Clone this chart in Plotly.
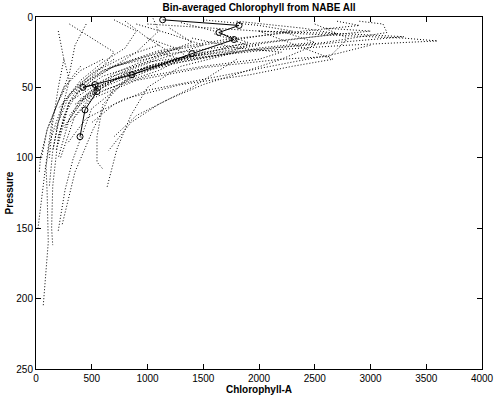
import plotly.graph_objects as go

# Individual profiles (Chlorophyll-A vs Pressure)
profile_chl = [
    [1100, 800, 550, 380, 250, 180, 120, 90, 100, 110, 65],
    [1300, 900, 600, 400, 300, 200, 150, 140, 150],
    [600, 400, 250, 150, 80, 18],
    [1500, 1000, 700, 511, 350, 233],
    [2000, 1400, 900, 500, 332, 260, 197],
    [1800, 1300, 1000, 850, 725, 637],
    [1700, 1200, 800, 600, 547, 547, 600],
    [700, 500, 300, 200, 150, 120],
    [400, 300, 200, 100, 40, 30],
    [250, 200, 150, 120],
    [1000, 1600, 2400, 3000, 3300, 3600, 2800, 2000, 1300, 800, 500],
    [2900, 3112, 3148, 2600, 1900, 1200, 700, 400],
    [2500, 2800, 2636, 2200, 1500, 900, 500, 300],
    [2000, 2663, 2300, 1919, 1300, 800, 450, 280],
    [1800, 2400, 2700, 2100, 1500, 900, 500],
    [1500, 2000, 2300, 1800, 1100, 600, 350],
    [1300, 1600, 1900, 1400, 800, 400],
    [900, 1200, 1500, 1100, 700, 400, 250],
    [800, 1000, 1200, 900, 600, 300, 200],
    [1200, 1400, 1000, 700, 450, 300],
    [700, 900, 800, 600, 400, 250, 180],
    [2600, 3000, 2500, 1800, 1200, 700, 400, 200],
    [2200, 2500, 2000, 1600, 1000, 600, 350],
    [1600, 1900, 1700, 1300, 900, 600, 400, 250],
    [300, 500, 700, 600, 400, 250, 180],
    [1050, 1100, 900, 700, 500, 300, 200],
    [200, 250, 300, 250, 200, 150],
    [2000, 2800, 3300, 3000, 2400, 1700, 1000, 600, 350],
    [1400, 1800, 2200, 2000, 1500, 1000, 600],
    [1100, 1300, 1100, 800, 500, 350, 220],
    [2700, 2900, 2400, 1700, 1100, 650],
    [1000, 1250, 1350, 1000, 700, 450, 300, 200],
    [2500, 2200, 1900, 1500, 1200, 900, 700],
    [1800, 1600, 1400, 1100, 850, 650],
    [3000, 2700, 2300, 1900, 1450, 1000, 700, 500],
    [450, 350, 300, 200, 100, 50],
]
profile_pres = [
    [20, 28, 38, 48, 60, 75, 90, 106, 125, 160, 205],
    [22, 30, 38, 48, 60, 85, 120, 150, 162],
    [30, 38, 50, 70, 110, 150],
    [25, 35, 50, 80, 110, 148],
    [20, 28, 40, 65, 101, 123, 153],
    [25, 35, 50, 70, 94, 121],
    [22, 32, 45, 62, 85, 103, 108],
    [30, 40, 55, 75, 95, 120],
    [35, 45, 60, 80, 100, 110],
    [30, 50, 75, 100],
    [5, 8, 12, 14, 15, 17, 20, 24, 30, 40, 52],
    [3, 5, 11, 18, 24, 32, 45, 60],
    [5, 15, 28, 30, 36, 45, 58, 75],
    [10, 30, 35, 41, 48, 58, 72, 90],
    [3, 8, 12, 18, 25, 38, 52],
    [2, 6, 10, 16, 25, 38, 55],
    [4, 10, 18, 28, 40, 60],
    [5, 12, 20, 30, 42, 58, 80],
    [3, 15, 25, 35, 45, 60, 85],
    [8, 18, 30, 40, 55, 70],
    [2, 10, 22, 32, 45, 60, 80],
    [8, 10, 14, 20, 26, 35, 48, 65],
    [10, 18, 22, 28, 36, 48, 62],
    [12, 20, 26, 32, 40, 50, 62, 78],
    [5, 15, 25, 35, 50, 70, 95],
    [1, 10, 25, 35, 45, 60, 90],
    [10, 30, 45, 60, 75, 95],
    [10, 12, 14, 16, 20, 25, 32, 42, 55],
    [15, 22, 25, 30, 35, 42, 52],
    [25, 30, 38, 46, 56, 70, 100],
    [3, 6, 10, 16, 24, 36],
    [15, 22, 28, 35, 44, 56, 72, 100],
    [20, 30, 38, 48, 58, 70, 85],
    [30, 40, 50, 62, 75, 95],
    [20, 26, 32, 38, 45, 52, 62, 75],
    [5, 20, 40, 60, 80, 100],
]

# Bin-averaged profile
mean_chl = [1136, 1821, 1641, 1776, 1399, 861, 421, 529, 547, 439, 395]
mean_pres = [2, 6, 11, 16, 26, 41, 50, 48, 53, 66, 85]

x_ticks = [0, 500, 1000, 1500, 2000, 2500, 3000, 3500, 4000]
y_ticks = [0, 50, 100, 150, 200, 250]

fig = go.Figure()
for c, p in zip(profile_chl, profile_pres):
    fig.add_trace(go.Scatter(x=c, y=p, mode="lines",
                             line=dict(color="black", width=1, dash="1px,2px"),
                             hoverinfo="skip", showlegend=False))

fig.add_trace(go.Scatter(x=mean_chl, y=mean_pres, mode="lines+markers",
                         line=dict(color="black", width=1),
                         marker=dict(symbol="circle-open", size=6, color="black",
                                     line=dict(width=1, color="black")),
                         showlegend=False))

font = dict(family="Liberation Sans, Arial, sans-serif", size=10, color="black")
axis_common = dict(showgrid=False, zeroline=False, showline=True, linecolor="black",
                   linewidth=1, mirror="ticks", ticks="inside", ticklen=5,
                   tickcolor="black", tickfont=font, automargin=False)

fig.update_layout(
    width=494, height=399,
    margin=dict(l=36, r=12, t=17, b=30),
    paper_bgcolor="white", plot_bgcolor="white",
    title=dict(text="<b>Bin-averaged Chlorophyll from NABE All</b>",
               x=259 / 494, xanchor="center", y=1 - 7 / 399, yanchor="middle",
               font=dict(family="Liberation Sans, Arial, sans-serif", size=10, color="black")),
    xaxis=dict(range=[0, 4000], tickvals=x_ticks, ticktext=[str(v) for v in x_ticks],
               title=dict(text="<b>Chlorophyll-A</b>", font=font, standoff=0),
               **axis_common),
    yaxis=dict(range=[250, 0], tickvals=y_ticks, ticktext=[str(v) for v in y_ticks],
               title=dict(text="<b>Pressure</b>", font=font, standoff=0),
               **axis_common),
    font=font,
)

fig.write_html("out.html", config={"displayModeBar": False},
               post_script="document.body.style.margin='0';document.body.style.padding='0';")
